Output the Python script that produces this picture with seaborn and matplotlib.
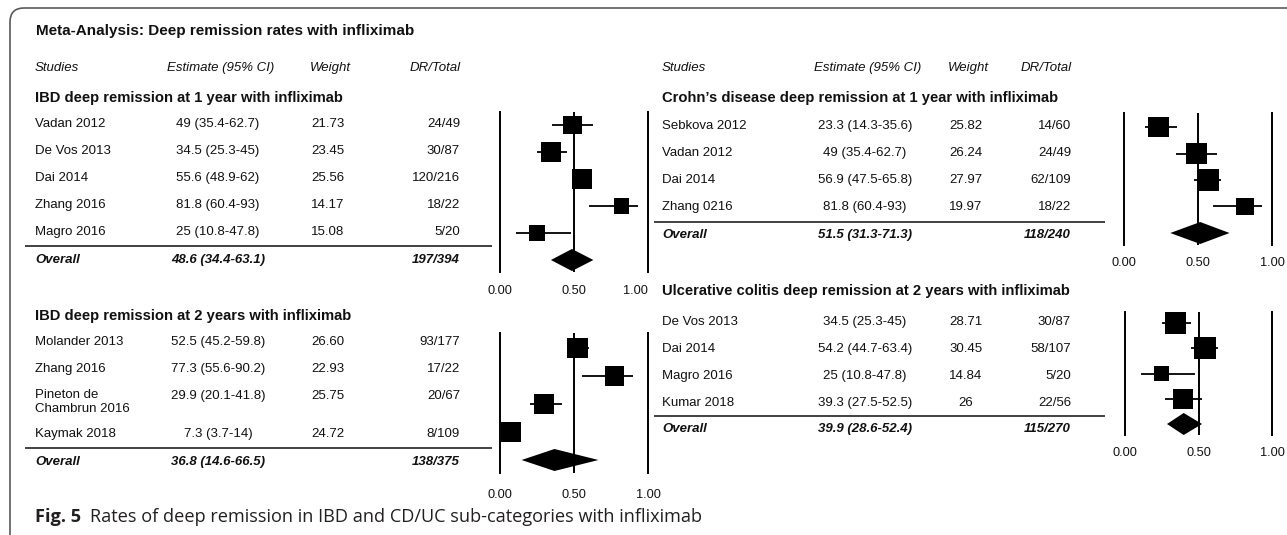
import matplotlib
matplotlib.use("Agg")
import matplotlib.pyplot as plt
import seaborn as sns
import pandas as pd
from matplotlib.patches import FancyBboxPatch

sns.set_theme(style="white")
plt.rcParams["font.family"] = ["Liberation Sans", "DejaVu Sans"]

# ---------------- data ----------------
title_text = "Meta-Analysis: Deep remission rates with infliximab"
col_headers = ["Studies", "Estimate (95% CI)", "Weight", "DR/Total"]
tick_labels = ["0.00", "0.50", "1.00"]
tick_values = [0.0, 0.5, 1.0]

ibd1_title = "IBD deep remission at 1 year with infliximab"
ibd1_studies = ["Vadan 2012", "De Vos 2013", "Dai 2014", "Zhang 2016", "Magro 2016"]
ibd1_est = [49, 34.5, 55.6, 81.8, 25]
ibd1_lo = [35.4, 25.3, 48.9, 60.4, 10.8]
ibd1_hi = [62.7, 45, 62, 93, 47.8]
ibd1_weight = ["21.73", "23.45", "25.56", "14.17", "15.08"]
ibd1_dr = ["24/49", "30/87", "120/216", "18/22", "5/20"]
ibd1_overall = [48.6, 34.4, 63.1]
ibd1_overall_dr = "197/394"

ibd2_title = "IBD deep remission at 2 years with infliximab"
ibd2_studies = ["Molander 2013", "Zhang 2016", "Pineton de\nChambrun 2016", "Kaymak 2018"]
ibd2_est = [52.5, 77.3, 29.9, 7.3]
ibd2_lo = [45.2, 55.6, 20.1, 3.7]
ibd2_hi = [59.8, 90.2, 41.8, 14]
ibd2_weight = ["26.60", "22.93", "25.75", "24.72"]
ibd2_dr = ["93/177", "17/22", "20/67", "8/109"]
ibd2_overall = [36.8, 14.6, 66.5]
ibd2_overall_dr = "138/375"

cd1_title = "Crohn\u2019s disease deep remission at 1 year with infliximab"
cd1_studies = ["Sebkova 2012", "Vadan 2012", "Dai 2014", "Zhang 0216"]
cd1_est = [23.3, 49, 56.9, 81.8]
cd1_lo = [14.3, 35.4, 47.5, 60.4]
cd1_hi = [35.6, 62.7, 65.8, 93]
cd1_weight = ["25.82", "26.24", "27.97", "19.97"]
cd1_dr = ["14/60", "24/49", "62/109", "18/22"]
cd1_overall = [51.5, 31.3, 71.3]
cd1_overall_dr = "118/240"

uc2_title = "Ulcerative colitis deep remission at 2 years with infliximab"
uc2_studies = ["De Vos 2013", "Dai 2014", "Magro 2016", "Kumar 2018"]
uc2_est = [34.5, 54.2, 25, 39.3]
uc2_lo = [25.3, 44.7, 10.8, 27.5]
uc2_hi = [45, 63.4, 47.8, 52.5]
uc2_weight = ["28.71", "30.45", "14.84", "26"]
uc2_dr = ["30/87", "58/107", "5/20", "22/56"]
uc2_overall = [39.9, 28.6, 52.4]
uc2_overall_dr = "115/270"

caption_bold = "Fig. 5"
caption_text = "Rates of deep remission in IBD and CD/UC sub-categories with infliximab"

# ---------------- layout ----------------
W, H = 1287, 535
fig = plt.figure(figsize=(W / 100, H / 100), dpi=100)
ax0 = fig.add_axes([0, 0, 1, 1])
ax0.set_xlim(0, W)
ax0.set_ylim(H, 0)
ax0.axis("off")

FS = 9.5
TXT = "#111111"
frame = FancyBboxPatch((10, 8), 1295, 560, boxstyle="round,pad=0,rounding_size=14",
                       fc="white", ec="#5a5a5a", lw=1.2, zorder=0)
ax0.add_patch(frame)

ax0.text(36, 31, title_text, fontsize=11, fontweight="bold", va="center", ha="left", color=TXT)


def fmt_est(e, l, h):
    return f"{e:g} ({l:g}-{h:g})"


def headers(cols, y):
    name_x, est_cx, wt_cx, dr_rx = cols
    kw = dict(fontsize=FS, style="italic", va="center", color=TXT)
    ax0.text(name_x, y, col_headers[0], ha="left", **kw)
    ax0.text(est_cx + 3, y, col_headers[1], ha="center", **kw)
    ax0.text(wt_cx + 2, y, col_headers[2], ha="center", **kw)
    ax0.text(dr_rx + 1, y, col_headers[3], ha="right", **kw)


def panel(cols, sec_y, rows_y, ov_y, line_y, line_x, fx, ftop, fbot, frow0, frowN, lab_y, last_ha,
          sec_title, studies, est, lo, hi, wts, drs, ov, ov_dr):
    name_x, est_cx, wt_cx, dr_rx = cols
    ax0.text(name_x, sec_y, sec_title, fontsize=10.6, fontweight="bold", va="center", ha="left", color=TXT)
    kw = dict(fontsize=FS, color=TXT)
    for s, e, l, h, w, d, y in zip(studies, est, lo, hi, wts, drs, rows_y):
        if "\n" in s:
            ax0.text(name_x, y - 7, s, va="top", ha="left", linespacing=1.25, **kw)
        else:
            ax0.text(name_x, y, s, va="center", ha="left", **kw)
        ax0.text(est_cx, y, fmt_est(e, l, h), va="center", ha="center", **kw)
        ax0.text(wt_cx, y, w, va="center", ha="center", **kw)
        ax0.text(dr_rx, y, d, va="center", ha="right", **kw)
    bkw = dict(fontsize=FS, style="italic", fontweight="bold", va="center", color=TXT)
    ax0.text(name_x, ov_y, "Overall", ha="left", **bkw)
    ax0.text(est_cx, ov_y, fmt_est(*ov), ha="center", **bkw)
    ax0.text(dr_rx, ov_y, ov_dr, ha="right", **bkw)
    ax0.plot(line_x, [line_y, line_y], color="#333333", lw=1.3, solid_capstyle="butt")

    # forest axes
    l, r = fx
    ax = fig.add_axes([l / W, 1 - fbot / H, (r - l) / W, (fbot - ftop) / H])
    n = len(studies) + 1
    d = (frowN - frow0) / (n - 1)
    ax.set_xlim(0, 1)
    ax.set_ylim((fbot - frow0) / d, (ftop - frow0) / d)
    ax.patch.set_alpha(0)
    df = pd.DataFrame({
        "est": [v / 100 for v in est],
        "lo": [v / 100 for v in lo],
        "hi": [v / 100 for v in hi],
        "weight": [float(w) for w in wts],
        "row": list(range(len(studies))),
    })
    ax.hlines(df["row"], df["lo"], df["hi"], color="black", lw=1.3, zorder=2)
    sns.scatterplot(data=df, x="est", y="row", size="weight", sizes=(0, 830), size_norm=(0, 100),
                    marker="s", color="black", edgecolor="black", linewidth=0, legend=False,
                    ax=ax, zorder=3)
    ax.axvline(0.5, color="black", lw=1.4, zorder=1)
    oe, ol, oh = [v / 100 for v in ov]
    hh = 11 / d
    orow = n - 1
    ax.fill([ol, oe, oh, oe], [orow, orow - hh, orow, orow + hh], color="black", lw=0, zorder=3)
    for sp in ["top", "bottom"]:
        ax.spines[sp].set_visible(False)
    for sp in ["left", "right"]:
        ax.spines[sp].set_color("black")
        ax.spines[sp].set_linewidth(1.4)
    ax.set_xticks(tick_values)
    ax.set_xticklabels(tick_labels)
    ax.set_yticks([])
    ax.set_xlabel("")
    ax.set_ylabel("")
    ax.tick_params(axis="x", length=0, labelsize=9.2, pad=(lab_y - fbot - 4.5) * 0.72, colors=TXT)
    ax.get_xticklabels()[-1].set_ha(last_ha)
    ax.grid(False)


L = (35, 218, 328, 460)
R = (662, 865, 966, 1071)

headers(L, 68)
headers(R, 68)

panel(L, 98, [124, 151, 178, 205, 232], 260, 246, [25, 492], (500, 648), 112, 272, 125, 260, 290, "right",
      ibd1_title, ibd1_studies, ibd1_est, ibd1_lo, ibd1_hi, ibd1_weight, ibd1_dr, ibd1_overall, ibd1_overall_dr)

panel(L, 316, [342, 369, 396, 434], 462, 448, [25, 492], (500, 648), 333, 473, 348, 460, 493, "center",
      ibd2_title, ibd2_studies, ibd2_est, ibd2_lo, ibd2_hi, ibd2_weight, ibd2_dr, ibd2_overall, ibd2_overall_dr)

panel(R, 98, [126, 153, 180, 207], 235, 222, [654, 1105], (1124, 1272), 113, 245, 127, 233, 262, "center",
      cd1_title, cd1_studies, cd1_est, cd1_lo, cd1_hi, cd1_weight, cd1_dr, cd1_overall, cd1_overall_dr)

panel(R, 291, [322, 349, 376, 403], 429, 416, [654, 1105], (1125, 1272), 312, 435, 323, 424, 452, "center",
      uc2_title, uc2_studies, uc2_est, uc2_lo, uc2_hi, uc2_weight, uc2_dr, uc2_overall, uc2_overall_dr)

# caption
CFS = 13.1
cap1 = ax0.text(35, 517, caption_bold, fontsize=CFS, fontweight="bold", family=["Open Sans", "DejaVu Sans"],
                va="center", ha="left", color="#231f20")
fig.canvas.draw()
bb = cap1.get_window_extent(renderer=fig.canvas.get_renderer())
x_after = bb.x1 + 9
ax0.text(x_after, 517, caption_text, fontsize=CFS, family=["Open Sans", "DejaVu Sans"],
         va="center", ha="left", color="#231f20")

fig.savefig("out.png", dpi=100)
